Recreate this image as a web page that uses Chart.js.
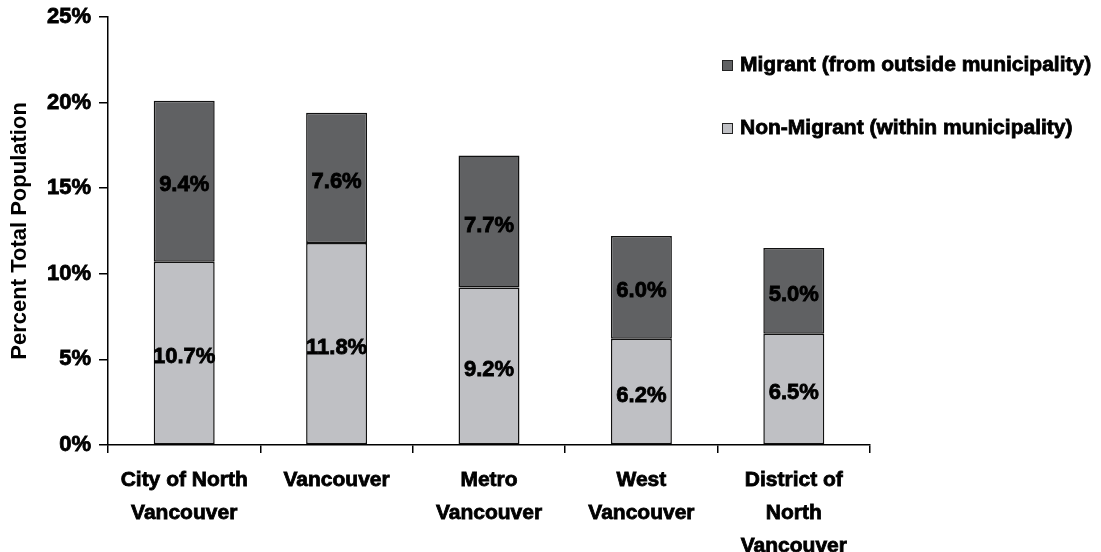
<!DOCTYPE html>
<html>
<head>
<meta charset="utf-8">
<script src="https://cdn.jsdelivr.net/npm/chart.js@4"></script>
<style>
  html, body { margin: 0; padding: 0; background: #fff; }
  #box { width: 1101px; height: 552px; position: relative; }
</style>
</head>
<body>
<div id="box"><canvas id="barChart"></canvas></div>
<script>
const categories = [
  ["City of North", "Vancouver"],
  ["Vancouver"],
  ["Metro", "Vancouver"],
  ["West", "Vancouver"],
  ["District of", "North", "Vancouver"]
];
const nonMigrant = [10.7, 11.8, 9.2, 6.2, 6.5];
const migrant = [9.4, 7.6, 7.7, 6.0, 5.0];
const seriesNames = ["Non-Migrant (within municipality)", "Migrant (from outside municipality)"];
const yTicks = [0, 5, 10, 15, 20, 25];

const FONT = "'Liberation Sans', Arial, sans-serif";

// value labels in the middle of each segment
const segmentLabels = {
  id: "segmentLabels",
  afterDatasetsDraw(chart) {
    const ctx = chart.ctx;
    ctx.save();
    ctx.font = `bold 22px ${FONT}`;
    ctx.fillStyle = "#000";
    ctx.strokeStyle = "#000";
    ctx.lineWidth = 0.8;
    ctx.textAlign = "center";
    ctx.textBaseline = "middle";
    chart.data.datasets.forEach((ds, i) => {
      chart.getDatasetMeta(i).data.forEach((bar, j) => {
        const y = (bar.y + bar.base) / 2 + 4;
        const txt = ds.data[j].toFixed(1) + "%";
        ctx.fillText(txt, bar.x, y);
        ctx.strokeText(txt, bar.x, y);
      });
    });
    ctx.restore();
  }
};

// legend sitting over the upper right of the plot, migrant first
const sideLegend = {
  id: "sideLegend",
  afterDraw(chart) {
    const ctx = chart.ctx;
    const items = chart.data.datasets.slice().reverse();
    ctx.save();
    ctx.font = `bold 21px ${FONT}`;
    ctx.textBaseline = "middle";
    ctx.textAlign = "left";
    items.forEach((ds, k) => {
      const y = 65 + k * 63;
      ctx.fillStyle = ds.backgroundColor;
      ctx.fillRect(722, y - 5, 10, 10);
      ctx.strokeStyle = "#222";
      ctx.lineWidth = 1;
      ctx.strokeRect(722.5, y - 4.5, 10, 10);
      ctx.fillStyle = "#000";
      ctx.strokeStyle = "#000";
      ctx.lineWidth = 0.8;
      ctx.fillText(ds.label, 740, y);
      ctx.strokeText(ds.label, 740, y);
    });
    ctx.restore();
  }
};

const ctx = document.getElementById("barChart").getContext("2d");
const barChart = new Chart(ctx, {
  type: "bar",
  data: {
    labels: categories,
    datasets: [
      {
        label: seriesNames[0],
        data: nonMigrant,
        backgroundColor: "#bfc0c4",
        borderColor: "#111",
        borderWidth: 1.5,
        borderSkipped: false,
        barPercentage: 0.4,
        categoryPercentage: 1
      },
      {
        label: seriesNames[1],
        data: migrant,
        backgroundColor: "#606163",
        borderColor: "#111",
        borderWidth: 1.5,
        borderSkipped: false,
        barPercentage: 0.4,
        categoryPercentage: 1
      }
    ]
  },
  options: {
    responsive: true,
    maintainAspectRatio: false,
    animation: false,
    layout: {
      padding: { top: 11, right: 231, left: 0, bottom: 0 }
    },
    plugins: {
      legend: { display: false },
      tooltip: { enabled: false }
    },
    scales: {
      x: {
        stacked: true,
        grid: {
          drawOnChartArea: false,
          color: "#000",
          tickLength: 8,
          lineWidth: 1.5
        },
        border: { color: "#000", width: 1.5 },
        ticks: {
          color: "#000",
          maxRotation: 0,
          autoSkip: false,
          padding: 11,
          textStrokeColor: "#000",
          textStrokeWidth: 0.8,
          font: { family: FONT, size: 21, weight: "bold", lineHeight: 1.57 }
        },
        afterFit(scale) { scale.height = 107; }
      },
      y: {
        stacked: true,
        min: 0,
        max: 25,
        afterBuildTicks(scale) {
          scale.ticks = yTicks.map(v => ({ value: v }));
        },
        grid: {
          drawOnChartArea: false,
          color: "#000",
          tickLength: 9,
          lineWidth: 1.5
        },
        border: { color: "#000", width: 1.5 },
        ticks: {
          color: "#000",
          padding: 8,
          textStrokeColor: "#000",
          textStrokeWidth: 0.8,
          callback: v => v + "%",
          font: { family: FONT, size: 22, weight: "bold", lineHeight: 0.8 }
        },
        title: {
          display: true,
          text: "Percent Total Population",
          color: "#000",
          padding: { top: 7, bottom: 0 },
          font: { family: FONT, size: 22, weight: "bold" }
        },
        afterFit(scale) { scale.width = 108; }
      }
    }
  },
  plugins: [segmentLabels, sideLegend]
});
</script>
</body>
</html>
